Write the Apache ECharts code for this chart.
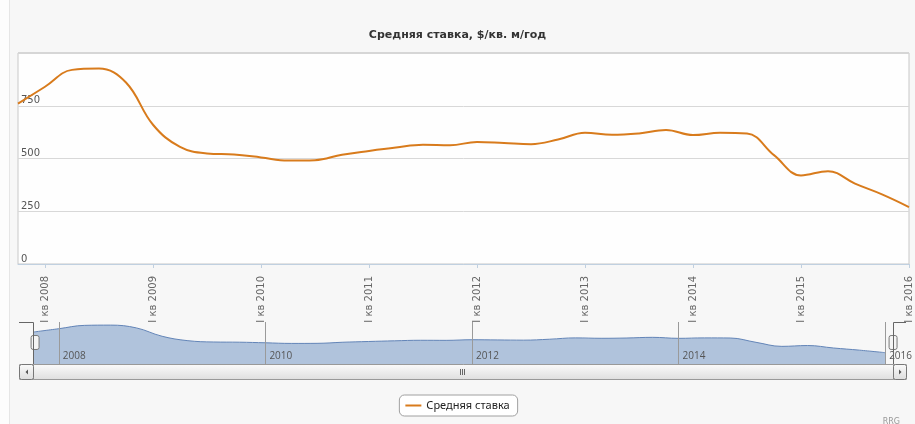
<!DOCTYPE html>
<html>
<head>
<meta charset="utf-8">
<script src="https://cdn.jsdelivr.net/npm/echarts@6/dist/echarts.min.js"></script>
<style>
  html, body { margin: 0; padding: 0; background: #f7f7f7; }
  #chart { width: 915px; height: 424px; }
</style>
</head>
<body>
<div id="chart"></div>
<script>
// кварталы, IV кв 2007 .. I кв 2016
var quarters = [
  'IV кв 2007',
  'I кв 2008', 'II кв 2008', 'III кв 2008', 'IV кв 2008',
  'I кв 2009', 'II кв 2009', 'III кв 2009', 'IV кв 2009',
  'I кв 2010', 'II кв 2010', 'III кв 2010', 'IV кв 2010',
  'I кв 2011', 'II кв 2011', 'III кв 2011', 'IV кв 2011',
  'I кв 2012', 'II кв 2012', 'III кв 2012', 'IV кв 2012',
  'I кв 2013', 'II кв 2013', 'III кв 2013', 'IV кв 2013',
  'I кв 2014', 'II кв 2014', 'III кв 2014', 'IV кв 2014',
  'I кв 2015', 'II кв 2015', 'III кв 2015', 'IV кв 2015',
  'I кв 2016'
];
// средняя ставка, $/кв. м/год
var rate = [
  760,
  840, 920, 926, 860,
  660, 555, 524, 519,
  505, 490, 492, 518,
  536, 552, 565, 563,
  578, 573, 568, 590,
  622, 612, 619, 635,
  611, 622, 619, 516,
  420, 440, 381, 330,
  270
];
var yTicks = [0, 250, 500, 750, 1000];
var seriesName = 'Средняя ставка';
var chartTitle = 'Средняя ставка, $/кв. м/год';

var chart = echarts.init(document.getElementById('chart'));

// подписи только у I квартала
function isFirstQuarter(idx) { return quarters[idx].indexOf('I кв') === 0; }
function isEvenYearStart(idx) {
  var q = quarters[idx];
  return q.indexOf('I кв') === 0 && parseInt(q.slice(-4), 10) % 2 === 0;
}

var option = {
  backgroundColor: '#f7f7f7',
  animation: false,
  title: [
    {
      text: chartTitle,
      left: 'center',
      top: 25,
      textStyle: { fontFamily: 'DejaVu Sans', fontSize: 11, fontWeight: 'bold', color: '#333' }
    },
    {
      text: 'RRG',
      right: 10,
      top: 413,
      textStyle: { fontFamily: 'DejaVu Sans', fontSize: 8, fontWeight: 'normal', color: '#999' }
    }
  ],
  legend: {
    data: [seriesName],
    left: 'center',
    top: 395,
    backgroundColor: '#fff',
    borderColor: '#a0a0a0',
    borderWidth: 1,
    borderRadius: 5,
    padding: [5, 8, 5, 6],
    icon: 'rect',
    itemWidth: 16,
    itemHeight: 2,
    itemGap: 6,
    textStyle: { fontFamily: 'Noto Sans', fontSize: 11, color: '#222' }
  },
  grid: [
    {
      left: 18, right: 6, top: 53, bottom: 160,
      show: true, backgroundColor: '#fefefe', borderColor: '#c8c8c8', borderWidth: 1
    },
    {
      left: 33, right: 22, top: 322, bottom: 60,
      show: false
    }
  ],
  xAxis: [
    {
      type: 'category',
      gridIndex: 0,
      data: quarters,
      boundaryGap: false,
      axisLine: { lineStyle: { color: '#c0d0e0', width: 1 } },
      axisTick: { show: true, interval: isFirstQuarter, length: 4, lineStyle: { color: '#c0d0e0' } },
      axisLabel: {
        interval: isFirstQuarter,
        rotate: 90,
        margin: 12,
        fontFamily: 'DejaVu Sans',
        fontSize: 10,
        color: '#666'
      },
      splitLine: { show: false }
    },
    {
      type: 'category',
      gridIndex: 1,
      z: 3,
      data: quarters,
      boundaryGap: false,
      axisLine: { show: false },
      axisTick: { show: false },
      axisLabel: {
        interval: isEvenYearStart,
        inside: true,
        margin: 3,
        align: 'left',
        padding: [0, 0, 0, 4],
        formatter: function (v) { return v.slice(-4); },
        fontFamily: 'Open Sans',
        fontSize: 10,
        color: '#555'
      },
      splitLine: { show: true, interval: isEvenYearStart, lineStyle: { color: '#9a9a9a', width: 1 } }
    }
  ],
  yAxis: [
    {
      type: 'value',
      gridIndex: 0,
      min: 0,
      max: 1000,
      interval: 250,
      axisLine: { show: false },
      axisTick: { show: false },
      axisLabel: {
        inside: true,
        margin: 3,
        verticalAlign: 'bottom',
        showMaxLabel: false,
        formatter: function (v) { return yTicks.indexOf(v) >= 0 && v < 1000 ? String(v) : ''; },
        fontFamily: 'DejaVu Sans',
        fontSize: 10,
        color: '#555'
      },
      splitLine: { lineStyle: { color: '#d8d8d8', width: 1 } }
    },
    {
      type: 'value',
      gridIndex: 1,
      min: 0,
      max: 1000,
      show: false,
      splitLine: { show: false }
    }
  ],
  dataZoom: [
    {
      type: 'slider',
      xAxisIndex: 0,
      start: 0,
      end: 100,
      left: 33,
      right: 22,
      top: 322,
      height: 41,
      backgroundColor: 'rgba(0,0,0,0)',
      borderColor: 'rgba(0,0,0,0)',
      fillerColor: 'rgba(0,0,0,0)',
      showDataShadow: false,
      showDetail: false,
      brushSelect: false,
      moveHandleSize: 0,
      handleIcon: 'path://M2,0 H6 A2,2 0 0 1 8,2 V12 A2,2 0 0 1 6,14 H2 A2,2 0 0 1 0,12 V2 A2,2 0 0 1 2,0 Z',
      handleSize: '34%',
      handleStyle: { color: '#f4f4f4', borderColor: '#777', borderWidth: 1 },
      emphasis: { handleStyle: { color: '#f4f4f4', borderColor: '#777' } }
    }
  ],
  series: [
    {
      name: seriesName,
      type: 'line',
      xAxisIndex: 0,
      yAxisIndex: 0,
      data: rate,
      smooth: 0.4,
      symbol: 'none',
      lineStyle: { color: '#d87b1c', width: 2 },
      itemStyle: { color: '#d87b1c' }
    },
    {
      name: 'navigator',
      type: 'line',
      xAxisIndex: 1,
      yAxisIndex: 1,
      data: rate,
      smooth: 0.4,
      symbol: 'none',
      silent: true,
      lineStyle: { color: '#6385b8', width: 1 },
      areaStyle: { color: '#b0c3dc', opacity: 1 },
      z: 1
    }
  ],
  graphic: [
    // левая светлая полоса
    { type: 'rect', shape: { x: 0, y: 0, width: 9, height: 424 }, style: { fill: '#fdfdfd' }, z: -1, silent: true },
    { type: 'line', shape: { x1: 9.5, y1: 0, x2: 9.5, y2: 424 }, style: { stroke: '#e6e6e6' }, z: -1, silent: true },
    // контур навигатора
    { type: 'polyline', shape: { points: [[19, 322.5], [33.5, 322.5], [33.5, 364]] }, style: { stroke: '#666', fill: null, lineWidth: 1 }, z: 10, silent: true },
    { type: 'polyline', shape: { points: [[893.5, 364], [893.5, 322.5], [906, 322.5]] }, style: { stroke: '#666', fill: null, lineWidth: 1 }, z: 10, silent: true },
    // полоса прокрутки
    { type: 'rect', shape: { x: 19.5, y: 364.5, width: 887, height: 15 }, style: { fill: '#e8e8e8', stroke: '#aaa' }, z: 5, silent: true },
    {
      type: 'rect', shape: { x: 33.5, y: 364.5, width: 860, height: 15 },
      style: {
        fill: new echarts.graphic.LinearGradient(0, 0, 0, 1, [
          { offset: 0, color: '#fbfbfb' }, { offset: 1, color: '#dedede' }
        ]),
        stroke: '#999'
      },
      z: 6, silent: true
    },
    {
      type: 'rect', shape: { x: 19.5, y: 364.5, width: 14, height: 15, r: 2 },
      style: {
        fill: new echarts.graphic.LinearGradient(0, 0, 0, 1, [
          { offset: 0, color: '#fbfbfb' }, { offset: 1, color: '#dcdcdc' }
        ]),
        stroke: '#777'
      },
      z: 7, silent: true
    },
    {
      type: 'rect', shape: { x: 893.5, y: 364.5, width: 13, height: 15, r: 2 },
      style: {
        fill: new echarts.graphic.LinearGradient(0, 0, 0, 1, [
          { offset: 0, color: '#fbfbfb' }, { offset: 1, color: '#dcdcdc' }
        ]),
        stroke: '#777'
      },
      z: 7, silent: true
    },
    { type: 'polygon', shape: { points: [[28, 369.5], [28, 374.5], [25.5, 372]] }, style: { fill: '#555' }, z: 8, silent: true },
    { type: 'polygon', shape: { points: [[899, 369.5], [899, 374.5], [901.5, 372]] }, style: { fill: '#555' }, z: 8, silent: true },
    // ручка полосы прокрутки
    { type: 'line', shape: { x1: 460.5, y1: 369, x2: 460.5, y2: 375 }, style: { stroke: '#666' }, z: 8, silent: true },
    { type: 'line', shape: { x1: 462.5, y1: 369, x2: 462.5, y2: 375 }, style: { stroke: '#666' }, z: 8, silent: true },
    { type: 'line', shape: { x1: 464.5, y1: 369, x2: 464.5, y2: 375 }, style: { stroke: '#666' }, z: 8, silent: true },
    // верхняя граница области графика
    { type: 'line', shape: { x1: 18, y1: 53, x2: 909, y2: 53 }, style: { stroke: '#d6d6d6', lineWidth: 2 }, z: 9, silent: true }
  ]
};

chart.setOption(option);
</script>
</body>
</html>
